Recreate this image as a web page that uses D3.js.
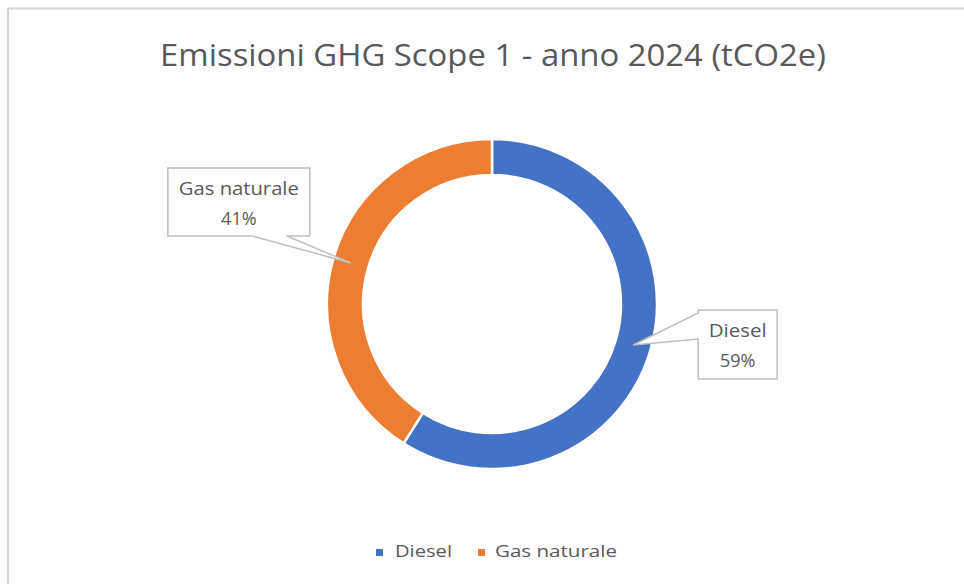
<!DOCTYPE html>
<html>
<head>
<meta charset="utf-8">
<script src="https://cdn.jsdelivr.net/npm/d3@7"></script>
<style>
  html, body { margin: 0; padding: 0; background: #fff; }
  svg { display: block; }
  text { font-family: "Open Sans", "Noto Sans", sans-serif; fill: #595959; }
</style>
</head>
<body>
<svg id="chart" width="964" height="584"></svg>
<script>
const categories = ["Diesel", "Gas naturale"];
const values = [59, 41];
const percentLabels = ["59%", "41%"];
const colors = ["#4472C4", "#ED7D31"];
const title = "Emissioni GHG Scope 1 - anno 2024 (tCO2e)";

const svg = d3.select("#chart");
const W = 964, H = 584;

// chart area border
svg.append("rect").attr("x", 8).attr("y", 8.5).attr("width", W + 10).attr("height", H + 10)
  .attr("fill", "#fff").attr("stroke", "#D4D4D4").attr("stroke-width", 2);

// title
svg.append("text").attr("x", 493).attr("y", 66).attr("text-anchor", "middle")
  .attr("font-size", 31).attr("textLength", 666).attr("lengthAdjust", "spacingAndGlyphs")
  .text(title);

const cx = 492, cy = 304, R = 165, r = 129;
const g = svg.append("g").attr("transform", `translate(${cx},${cy})`);

const pie = d3.pie().sort(null).value(d => d.v);
const data = categories.map((c, i) => ({ c, v: values[i], col: colors[i], lab: percentLabels[i] }));
const arcs = pie(data);
const arc = d3.arc().innerRadius(r).outerRadius(R);

g.selectAll("path.slice").data(arcs).enter().append("path")
  .attr("class", "slice")
  .attr("d", arc)
  .attr("fill", d => d.data.col)
  .attr("stroke", "#fff").attr("stroke-width", 2.5);

// callouts
arcs.forEach((a, i) => {
  const [tx, ty] = arc.centroid(a);
  const px = cx + tx, py = cy + ty;
  let pathD, textX, textY, nameLen;
  if (i === 0) {
    // box to the right of the tip, wedge on left edge
    const bx = px + 65, by = py - 35, bw = 79, bh = 69;
    pathD = `M${bx},${by} H${bx + bw} V${by + bh} H${bx} V${by + 29} L${px},${py} L${bx},${by + 3} Z`;
    textX = bx + bw / 2; textY = by + 27;
    nameLen = 58;
  } else {
    // box above-left of the tip, wedge on bottom edge
    const bx = px - 183, by = py - 95, bw = 142, bh = 68;
    pathD = `M${bx},${by} H${bx + bw} V${by + bh} H${bx + 119} L${px},${py} L${bx + 84},${by + bh} H${bx} Z`;
    textX = bx + bw / 2; textY = by + 27;
    nameLen = 120;
  }
  svg.append("path").attr("d", pathD).attr("fill", "#fff")
    .attr("stroke", "#BFBFBF").attr("stroke-width", 1.5).attr("stroke-linejoin", "miter");
  svg.append("text").attr("x", textX).attr("y", textY).attr("text-anchor", "middle")
    .attr("font-size", 18).attr("textLength", nameLen).attr("lengthAdjust", "spacingAndGlyphs")
    .text(a.data.c);
  svg.append("text").attr("x", textX).attr("y", textY + 30).attr("text-anchor", "middle")
    .attr("font-size", 18).text(a.data.lab);
});

// legend
const legendItems = [
  { x: 376, tx: 395, len: 57 },
  { x: 478, tx: 495, len: 122 }
];
categories.forEach((c, i) => {
  const L = legendItems[i];
  svg.append("rect").attr("x", L.x).attr("y", 549).attr("width", 7).attr("height", 7).attr("fill", colors[i]);
  svg.append("text").attr("x", L.tx).attr("y", 557).attr("font-size", 17)
    .attr("textLength", L.len).attr("lengthAdjust", "spacingAndGlyphs").text(c);
});
</script>
</body>
</html>
